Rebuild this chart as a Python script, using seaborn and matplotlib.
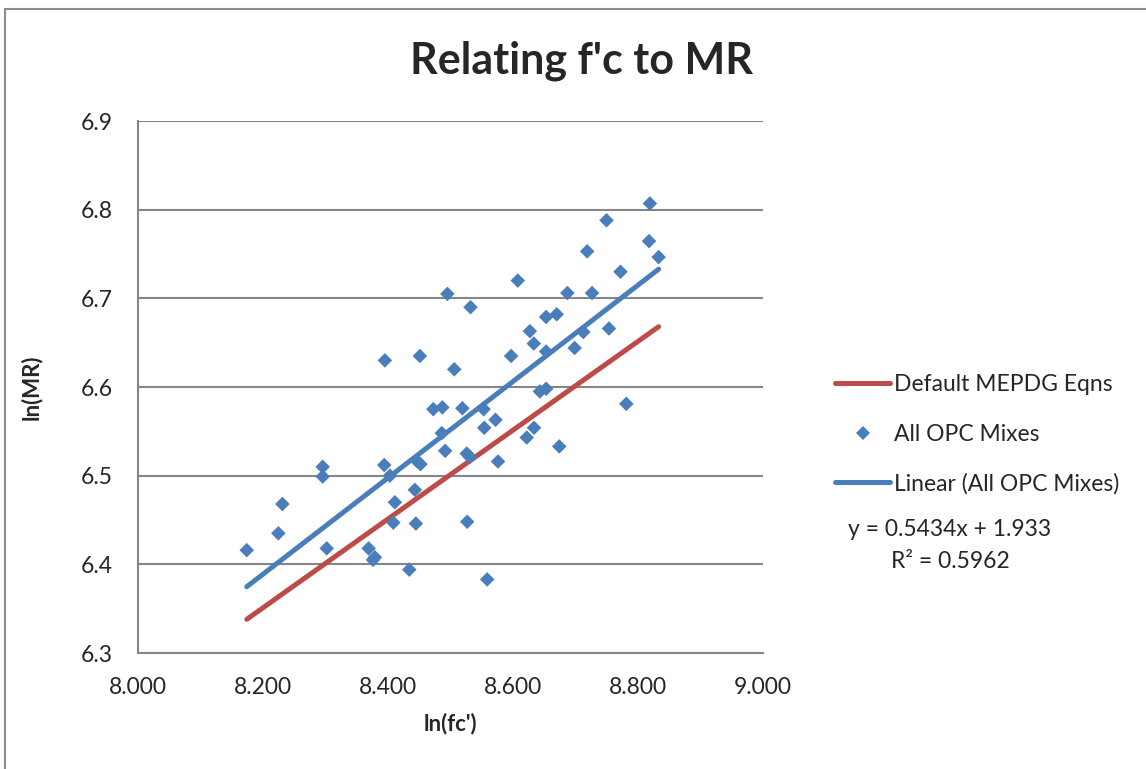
import numpy as np
import pandas as pd
import matplotlib
matplotlib.use("Agg")
import matplotlib.pyplot as plt
from matplotlib.lines import Line2D
from matplotlib.patches import Rectangle
import seaborn as sns

# ---- data ----
ln_fc = [8.174, 8.2245, 8.231, 8.2955, 8.2955, 8.302, 8.369, 8.376, 8.379, 8.434,
         8.395, 8.451, 8.394, 8.403, 8.411, 8.4085, 8.4446, 8.443, 8.447, 8.452,
         8.4725, 8.487, 8.519, 8.495, 8.532, 8.506, 8.486, 8.4915, 8.526, 8.531,
         8.5267, 8.5587, 8.553, 8.554, 8.572, 8.576, 8.597, 8.6077, 8.627, 8.6333,
         8.622, 8.6336, 8.643, 8.653, 8.653, 8.670, 8.653, 8.674, 8.687, 8.6986,
         8.7125, 8.7265, 8.7186, 8.7536, 8.7496, 8.772, 8.7813, 8.819, 8.8176, 8.833]
ln_mr = [6.416, 6.435, 6.468, 6.510, 6.499, 6.418, 6.418, 6.405, 6.408, 6.394,
         6.630, 6.635, 6.512, 6.500, 6.470, 6.447, 6.446, 6.484, 6.516, 6.513,
         6.575, 6.577, 6.576, 6.705, 6.690, 6.620, 6.548, 6.528, 6.525, 6.521,
         6.448, 6.383, 6.575, 6.554, 6.563, 6.516, 6.635, 6.720, 6.663, 6.649,
         6.543, 6.554, 6.595, 6.598, 6.679, 6.682, 6.640, 6.533, 6.706, 6.644,
         6.662, 6.706, 6.753, 6.666, 6.788, 6.730, 6.581, 6.807, 6.7645, 6.7465]

default_x = [8.174, 8.833]
default_y = [6.338, 6.668]

trend_slope = 0.5434
trend_intercept = 1.933
r_squared = 0.5962

x_ticks = [8.0, 8.2, 8.4, 8.6, 8.8, 9.0]
y_ticks = [6.3, 6.4, 6.5, 6.6, 6.7, 6.8, 6.9]

BLUE = "#4A7EBB"
RED = "#BE4B48"
GRID = "#868686"
FS = 16.5

sns.set_style("white")
plt.rcParams["font.family"] = ["Lato", "DejaVu Sans"]

fig = plt.figure(figsize=(11.46, 7.69), dpi=100)
ax = fig.add_axes([138 / 1146, 1 - 653 / 769, 625 / 1146, 532 / 769])

# outer chart border
fig.patches.append(Rectangle((5 / 1146, -0.05), 1.2, (769 - 9) / 769 + 0.05,
                             transform=fig.transFigure, fill=False,
                             edgecolor="#8C8C8C", linewidth=1.5))

pts = pd.DataFrame({"x": ln_fc, "y": ln_mr})
xmin, xmax = min(ln_fc), max(ln_fc)
trend = pd.DataFrame({"x": [xmin, xmax],
                      "y": [trend_slope * xmin + trend_intercept, trend_slope * xmax + trend_intercept]})
default = pd.DataFrame({"x": default_x, "y": default_y})

sns.lineplot(data=default, x="x", y="y", ax=ax, color=RED, linewidth=3.6,
             solid_capstyle="round", zorder=3)
sns.scatterplot(data=pts, x="x", y="y", ax=ax, color=BLUE, marker="D", s=55,
                edgecolor="none", linewidth=0, zorder=4)
sns.lineplot(data=trend, x="x", y="y", ax=ax, color=BLUE, linewidth=3.6,
             solid_capstyle="round", zorder=5)

ax.set_xlim(8.0, 9.0)
ax.set_ylim(6.3, 6.9)
ax.set_xticks(x_ticks)
ax.set_xticklabels([f"{v:.3f}" for v in x_ticks], fontsize=FS)
ax.set_yticks(y_ticks)
ax.set_yticklabels([f"{v:.1f}" for v in y_ticks], fontsize=FS)
ax.tick_params(axis="x", length=0, pad=17)
ax.tick_params(axis="y", length=0, pad=18)
ax.grid(axis="y", color=GRID, linewidth=1.5)
ax.grid(axis="x", visible=False)
for s in ["top", "right"]:
    ax.spines[s].set_visible(False)
for s in ["left", "bottom"]:
    ax.spines[s].set_color(GRID)
    ax.spines[s].set_linewidth(1.5)

ax.set_xlabel("ln(fc')", fontsize=16, fontweight="bold", va="center")
ax.set_ylabel("ln(MR)", fontsize=16, fontweight="bold", va="center")
ax.xaxis.set_label_coords(0.5, (653 - 724) / 532)
ax.yaxis.set_label_coords((31 - 138) / 625, 0.5)

fig.text(581 / 1146, 1 - 61 / 769, "Relating f'c to MR", fontsize=31,
         fontweight="bold", ha="center", va="center")

handles = [Line2D([0], [0], color=RED, linewidth=3.6),
           Line2D([0], [0], color=BLUE, marker="D", linestyle="none", markersize=7,
                  markeredgewidth=0),
           Line2D([0], [0], color=BLUE, linewidth=3.6)]
labels = ["Default MEPDG Eqns", "All OPC Mixes", "Linear (All OPC Mixes)"]
fig.legend(handles, labels, loc="upper left", bbox_to_anchor=(826 / 1146, 1 - 365 / 769),
           frameon=False, fontsize=FS, handlelength=2.4, handletextpad=0.17,
           labelspacing=1.24, borderaxespad=0)

fig.text(950 / 1146, 1 - 530 / 769, f"y = {trend_slope}x + {trend_intercept}",
         fontsize=FS, ha="center", va="center")
fig.text(950 / 1146, 1 - 562 / 769, f"R² = {r_squared}",
         fontsize=FS, ha="center", va="center")

fig.savefig("out.png", dpi=100)
